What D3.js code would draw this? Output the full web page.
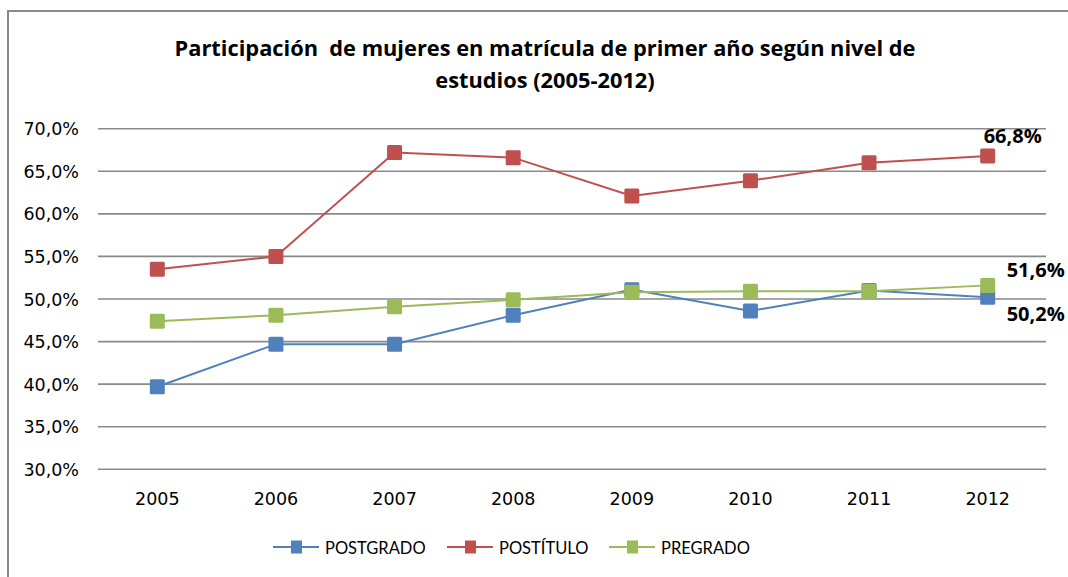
<!DOCTYPE html>
<html>
<head>
<meta charset="utf-8">
<script src="https://cdn.jsdelivr.net/npm/d3@7"></script>
<style>
	body { margin: 0; background: #fff; }
	svg  { display: block; }
</style>
</head>
<body>
<svg id="chart" width="1068" height="577"></svg>
<script>
var years      = [ '2005', '2006', '2007', '2008', '2009', '2010', '2011', '2012' ];
var postgrado  = [ 39.7, 44.7, 44.7, 48.1, 51.1, 48.6, 51.0, 50.2 ];
var postitulo  = [ 53.5, 55.0, 67.2, 66.6, 62.1, 63.9, 66.0, 66.8 ];
var pregrado   = [ 47.4, 48.1, 49.1, 49.9, 50.8, 50.9, 50.9, 51.6 ];
var seriesName = [ 'POSTGRADO', 'POSTÍTULO', 'PREGRADO' ];
var yTicks     = [ 30, 35, 40, 45, 50, 55, 60, 65, 70 ];
var titleLines = [ 'Participación  de mujeres en matrícula de primer año según nivel de', 'estudios (2005-2012)' ];

var C = {
	  blue  : '#4F81BD'
	, red   : '#C0504D'
	, green : '#9BBB59'
	, grid  : '#898989'
	, text  : '#000'
}
var series = [
	  { name: seriesName[ 0 ], values: postgrado, color: C.blue,  label: 'below' }
	, { name: seriesName[ 1 ], values: postitulo, color: C.red,   label: 'top' }
	, { name: seriesName[ 2 ], values: pregrado,  color: C.green, label: 'above' }
];
var fmt = v => d3.format( '.1f' )( v ).replace( '.', ',' ) +'%';

var svg = d3.select( '#chart' );
svg.append( 'rect' ) // chart frame, runs off right / bottom edge
	.attr( 'x', 8 ).attr( 'y', 11 )
	.attr( 'width', 1080 ).attr( 'height', 590 )
	.attr( 'fill', '#fff' )
	.attr( 'stroke', C.grid ).attr( 'stroke-width', 2 );

// title (keeps the double space of the original)
svg.selectAll( 'text.title' )
	.data( titleLines )
	.join( 'text' )
	.attr( 'class', 'title' )
	.attr( 'x', 545 )
	.attr( 'y', ( d, i ) => 56 + i * 32 )
	.attr( 'text-anchor', 'middle' )
	.style( 'white-space', 'pre' )
	.style( 'font-family', '"Open Sans", sans-serif' )
	.style( 'font-weight', 'bold' )
	.style( 'font-size', '21.8px' )
	.attr( 'fill', C.text )
	.text( d => d );

var x = d3.scaleBand().domain( years ).range( [ 98, 1047 ] );
var y = d3.scaleLinear().domain( [ 30, 70 ] ).range( [ 469.3, 128.7 ] );
var cx = d => x( d ) + x.bandwidth() / 2;

// grid lines
svg.append( 'g' )
	.selectAll( 'line' )
	.data( yTicks )
	.join( 'line' )
	.attr( 'x1', 98 ).attr( 'x2', 1046 )
	.attr( 'y1', d => y( d ) ).attr( 'y2', d => y( d ) )
	.attr( 'stroke', C.grid ).attr( 'stroke-width', 1.6 );

// y labels
svg.append( 'g' )
	.selectAll( 'text' )
	.data( yTicks )
	.join( 'text' )
	.attr( 'x', 79 )
	.attr( 'y', d => y( d ) + 6.5 )
	.attr( 'text-anchor', 'end' )
	.style( 'font-family', '"DejaVu Sans", sans-serif' )
	.style( 'font-size', '17.5px' )
	.attr( 'fill', C.text )
	.text( d => fmt( d ) );

// x labels
svg.append( 'g' )
	.selectAll( 'text' )
	.data( years )
	.join( 'text' )
	.attr( 'x', d => cx( d ) )
	.attr( 'y', 505 )
	.attr( 'text-anchor', 'middle' )
	.style( 'font-family', '"DejaVu Sans", sans-serif' )
	.style( 'font-size', '17.5px' )
	.attr( 'fill', C.text )
	.text( d => d );

// series
var line = d3.line()
	.x( ( d, i ) => cx( years[ i ] ) )
	.y( d => y( d ) );
var ms = 15; // marker size
series.forEach( s => {
	var g = svg.append( 'g' );
	g.append( 'path' )
		.attr( 'd', line( s.values ) )
		.attr( 'fill', 'none' )
		.attr( 'stroke', s.color )
		.attr( 'stroke-width', 2 );
	g.selectAll( 'rect' )
		.data( s.values )
		.join( 'rect' )
		.attr( 'x', ( d, i ) => cx( years[ i ] ) - ms / 2 )
		.attr( 'y', d => y( d ) - ms / 2 )
		.attr( 'width', ms ).attr( 'height', ms )
		.attr( 'rx', 1.5 )
		.attr( 'fill', s.color );
} );

// last value labels
var last   = years.length - 1;
var labelY = { top: -12.7, above: -8.7, below: 23.3 };
var labelX = { top: -4, above: 19, below: 19 };
series.forEach( s => {
	var v = s.values[ last ];
	svg.append( 'text' )
		.attr( 'x', cx( years[ last ] ) + labelX[ s.label ] )
		.attr( 'y', y( v ) + labelY[ s.label ] )
		.style( 'font-family', '"Open Sans", sans-serif' )
		.style( 'font-weight', 'bold' )
		.style( 'font-size', '20px' )
		.attr( 'fill', C.text )
		.text( fmt( v ) );
} );

// legend
var legX = [ 273, 447, 609 ];
var leg = svg.append( 'g' )
	.selectAll( 'g' )
	.data( series )
	.join( 'g' )
	.attr( 'transform', ( d, i ) => 'translate('+ legX[ i ] +', 547)' );
leg.append( 'line' )
	.attr( 'x1', 0 ).attr( 'x2', 46 )
	.attr( 'stroke', d => d.color ).attr( 'stroke-width', 2 );
leg.append( 'rect' )
	.attr( 'x', 18 ).attr( 'y', -6.5 )
	.attr( 'width', 11 ).attr( 'height', 13 )
	.attr( 'fill', d => d.color );
leg.append( 'text' )
	.attr( 'x', 52 )
	.attr( 'y', 6.5 )
	.style( 'font-family', 'Lato, sans-serif' )
	.style( 'font-size', '16.5px' )
	.attr( 'fill', C.text )
	.text( d => d.name );
</script>
</body>
</html>
